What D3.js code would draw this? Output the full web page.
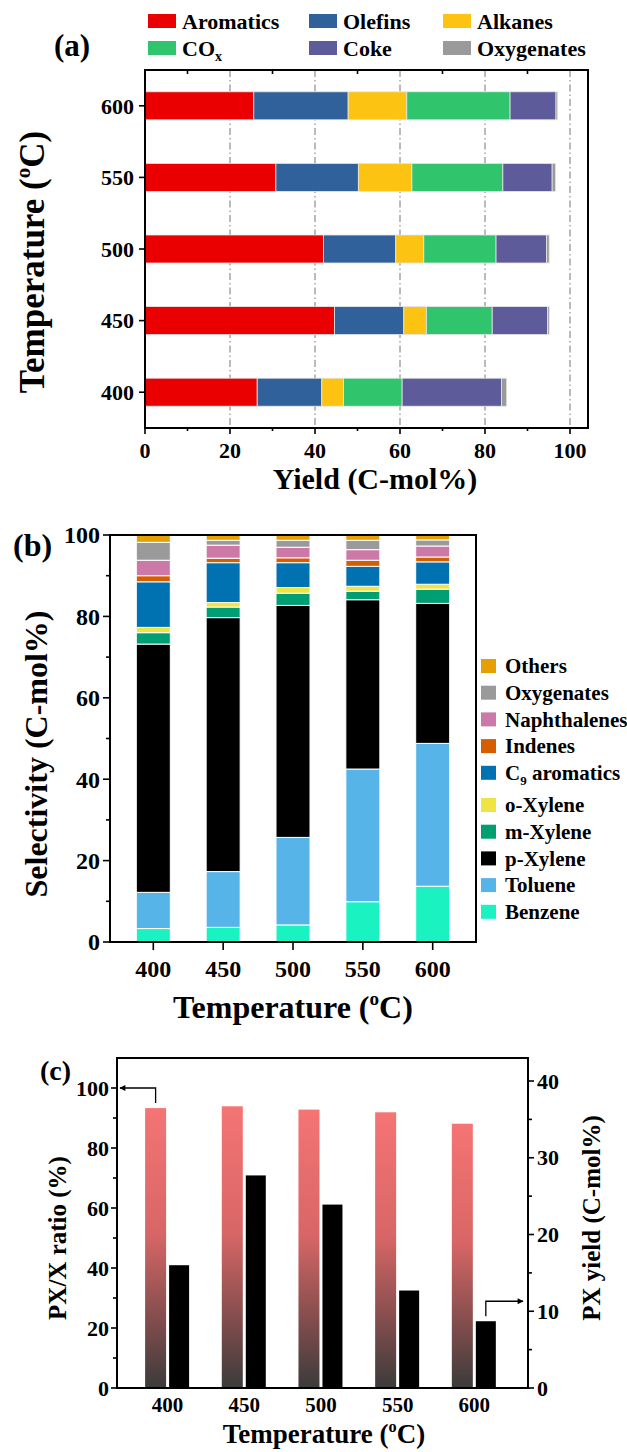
<!DOCTYPE html>
<html>
<head>
<meta charset="utf-8">
<script src="https://cdn.jsdelivr.net/npm/d3@7"></script>
<style>
body { margin: 0; background: #fff; }
text { font-family: "Liberation Serif", "Times New Roman", serif; font-weight: bold; fill: #000; }
</style>
</head>
<body>
<script>
var width = 627,
    height = 1452;

// ---- data ----
var temps = [400, 450, 500, 550, 600];

// (a) yields, C-mol%
var aromatics  = [26.4, 44.6, 42.0, 30.8, 25.6];
var olefins    = [15.2, 16.3, 17.0, 19.4, 22.2];
var alkanes    = [5.1, 5.3, 6.6, 12.6, 13.8];
var cox        = [13.8, 15.5, 17.0, 21.4, 24.3];
var coke       = [23.4, 13.0, 11.9, 11.6, 10.8];
var oxyYield   = [1.2, 0.4, 0.6, 0.8, 0.4];
var yieldNames = ["Aromatics", "Olefins", "Alkanes", "COx", "Coke", "Oxygenates"];
var yieldColors = ["#ea0000", "#30619b", "#fdc313", "#30c56c", "#5d5b9a", "#9a9a9a"];
var yieldTicks = [0, 20, 40, 60, 80, 100];

// (b) selectivity, C-mol%
var benzene  = [3.3, 3.6, 4.2, 9.9, 13.7];
var toluene  = [8.9, 13.7, 21.5, 32.6, 35.1];
var pXylene  = [61.0, 62.4, 57.0, 41.6, 34.4];
var mXylene  = [2.8, 2.6, 3.0, 2.1, 3.5];
var oXylene  = [1.3, 1.1, 1.4, 1.2, 1.2];
var c9arom   = [11.2, 9.8, 6.1, 4.9, 5.5];
var indenes  = [1.5, 1.1, 1.2, 1.5, 1.2];
var naphth   = [3.8, 3.2, 2.6, 2.6, 2.7];
var oxySel   = [4.4, 1.2, 1.7, 2.3, 1.5];
var others   = [1.8, 1.3, 1.3, 1.3, 1.2];
var selNames = ["Benzene", "Toluene", "p-Xylene", "m-Xylene", "o-Xylene",
                "C9 aromatics", "Indenes", "Naphthalenes", "Oxygenates", "Others"];
var selColors = ["#1af2c2", "#56b4e9", "#000000", "#009e73", "#f0e442",
                 "#0072b2", "#d55e00", "#cc79a7", "#9a9a9a", "#e69f00"];
var selTicks = [0, 20, 40, 60, 80, 100];

// (c)
var pxRatio = [93.3, 93.9, 92.8, 91.9, 88.1];
var pxYield = [16.0, 27.7, 23.9, 12.7, 8.7];
var ratioTicks = [0, 20, 40, 60, 80, 100];
var pxTicks = [0, 10, 20, 30, 40];

var svg = d3.select("body").append("svg")
    .attr("width", width)
    .attr("height", height)
    .style("background", "#fff");

var defs = svg.append("defs");
var grad = defs.append("linearGradient")
    .attr("id", "pink")
    .attr("x1", 0).attr("y1", 0).attr("x2", 0).attr("y2", 1);
[["0%", "#f57474"], ["45%", "#d86666"], ["78%", "#7c4b4b"], ["100%", "#3b3b3b"]].forEach(function(s) {
    grad.append("stop").attr("offset", s[0]).attr("stop-color", s[1]);
});
defs.append("marker")
    .attr("id", "arrow")
    .attr("viewBox", "0 0 10 10")
    .attr("refX", 9).attr("refY", 5)
    .attr("markerWidth", 9).attr("markerHeight", 6)
    .attr("markerUnits", "userSpaceOnUse")
    .attr("orient", "auto")
    .append("path")
    .attr("d", "M0,0L10,5L0,10z")
    .attr("fill", "#000");

function frame(x0, y0, x1, y1) {
    svg.append("rect")
        .attr("x", x0).attr("y", y0)
        .attr("width", x1 - x0).attr("height", y1 - y0)
        .attr("fill", "none").attr("stroke", "#000").attr("stroke-width", 2);
}

// "Temperature (oC)" with a raised small o
function tempLabel(sel, fs) {
    var rise = Math.round(fs * 0.4);
    sel.attr("font-size", fs);
    sel.append("tspan").text("Temperature (");
    sel.append("tspan").attr("dy", -rise).attr("font-size", fs * 0.6).text("o");
    sel.append("tspan").attr("dy", rise).text("C)");
}

function tick(x1, y1, x2, y2) {
    svg.append("line")
        .attr("x1", x1).attr("y1", y1).attr("x2", x2).attr("y2", y2)
        .attr("stroke", "#000").attr("stroke-width", 1.6);
}

// ================= (a) =================
var xA = d3.scaleLinear().domain([0, 104]).range([145, 587]);
var yA = d3.scalePoint().domain(temps.slice().reverse()).range([70, 428]).padding(0.5);
var seriesA = [aromatics, olefins, alkanes, cox, coke, oxyYield];

// grid
svg.append("g").selectAll("line")
    .data(yieldTicks.slice(1))
    .enter().append("line")
    .attr("x1", function(d) { return xA(d); })
    .attr("x2", function(d) { return xA(d); })
    .attr("y1", 70).attr("y2", 428)
    .attr("stroke", "#777").attr("stroke-width", 1)
    .attr("stroke-dasharray", "7,3,1.5,3");

var stackA = d3.stack().keys(d3.range(6))
    .value(function(d, k) { return seriesA[k][d]; })(d3.range(temps.length));

svg.append("g").selectAll("g")
    .data(stackA)
    .enter().append("g")
    .attr("fill", function(d, i) { return yieldColors[i]; })
    .selectAll("rect")
    .data(function(d) { return d; })
    .enter().append("rect")
    .attr("x", function(d) { return xA(d[0]); })
    .attr("width", function(d) { return xA(d[1]) - xA(d[0]); })
    .attr("y", function(d) { return yA(temps[d.data]) - 14; })
    .attr("height", 28)
    .attr("stroke", "#e6e6e6").attr("stroke-width", 0.8);

frame(145, 70, 588, 428);

// ticks
yieldTicks.forEach(function(v) { tick(xA(v), 428, xA(v), 434); });
d3.range(10, 101, 20).forEach(function(v) {
    tick(xA(v), 428, xA(v), 431);
    tick(xA(v), 70, xA(v), 74);
});
temps.forEach(function(t) { tick(139, yA(t), 145, yA(t)); });

svg.append("g").selectAll("text")
    .data(yieldTicks)
    .enter().append("text")
    .attr("x", function(d) { return xA(d); })
    .attr("y", 458)
    .attr("text-anchor", "middle")
    .attr("font-size", 22)
    .text(function(d) { return d; });

svg.append("g").selectAll("text")
    .data(temps)
    .enter().append("text")
    .attr("x", 134)
    .attr("y", function(d) { return yA(d); })
    .attr("dy", "0.35em")
    .attr("text-anchor", "end")
    .attr("font-size", 22)
    .text(function(d) { return d; });

svg.append("text")
    .attr("x", 375).attr("y", 489)
    .attr("text-anchor", "middle")
    .attr("font-size", 30)
    .text("Yield (C-mol%)");

svg.append("text")
    .attr("transform", "translate(44,262) rotate(-90)")
    .attr("text-anchor", "middle")
    .call(tempLabel, 35);

svg.append("text").attr("x", 54).attr("y", 56).attr("font-size", 31).text("(a)");

// legend (a)
var legA = svg.append("g").selectAll("g")
    .data(yieldNames)
    .enter().append("g")
    .attr("transform", function(d, i) {
        return "translate(" + [[148, 309, 443][i % 3], [21, 48][Math.floor(i / 3)]] + ")";
    });
legA.append("rect")
    .attr("x", 0).attr("y", -7).attr("width", 28).attr("height", 14)
    .attr("fill", function(d, i) { return yieldColors[i]; });
legA.append("text")
    .attr("x", 34).attr("dy", "0.35em")
    .attr("font-size", 22)
    .each(function(d) {
        var t = d3.select(this);
        if (d === "COx") {
            t.append("tspan").text("CO");
            t.append("tspan").attr("dy", 5).attr("font-size", 14).text("x");
        } else {
            t.text(d);
        }
    });

// ================= (b) =================
var xB = d3.scaleLinear().domain([369, 631]).range([110, 476]);
var yB = d3.scaleLinear().domain([0, 100]).range([942, 535]);
var seriesB = [benzene, toluene, pXylene, mXylene, oXylene, c9arom, indenes, naphth, oxySel, others];

var stackB = d3.stack().keys(d3.range(10))
    .value(function(d, k) { return seriesB[k][d]; })(d3.range(temps.length));

svg.append("g").selectAll("g")
    .data(stackB)
    .enter().append("g")
    .attr("fill", function(d, i) { return selColors[i]; })
    .selectAll("rect")
    .data(function(d) { return d; })
    .enter().append("rect")
    .attr("x", function(d) { return xB(temps[d.data]) - 17; })
    .attr("width", 34)
    .attr("y", function(d) { return yB(d[1]); })
    .attr("height", function(d) { return yB(d[0]) - yB(d[1]); })
    .attr("stroke", "#fff").attr("stroke-width", 1);

frame(110, 535, 476, 942);

selTicks.forEach(function(v) { tick(103, yB(v), 110, yB(v)); });
d3.range(10, 100, 20).forEach(function(v) { tick(106, yB(v), 110, yB(v)); });
temps.forEach(function(t) { tick(xB(t), 942, xB(t), 950); });

svg.append("g").selectAll("text")
    .data(selTicks)
    .enter().append("text")
    .attr("x", 100)
    .attr("y", function(d) { return yB(d); })
    .attr("dy", "0.35em")
    .attr("text-anchor", "end")
    .attr("font-size", 24)
    .text(function(d) { return d; });

svg.append("g").selectAll("text")
    .data(temps)
    .enter().append("text")
    .attr("x", function(d) { return xB(d); })
    .attr("y", 977)
    .attr("text-anchor", "middle")
    .attr("font-size", 24)
    .text(function(d) { return d; });

svg.append("text")
    .attr("x", 293).attr("y", 1018)
    .attr("text-anchor", "middle")
    .call(tempLabel, 32);

svg.append("text")
    .attr("transform", "translate(47,754) rotate(-90)")
    .attr("text-anchor", "middle")
    .attr("font-size", 32)
    .text("Selectivity (C-mol%)");

svg.append("text").attr("x", 13).attr("y", 556).attr("font-size", 32).text("(b)");

// legend (b), top entry is last series
var legB = svg.append("g").selectAll("g")
    .data(selNames.slice().reverse())
    .enter().append("g")
    .attr("transform", function(d, i) {
        return "translate(481," + (666 + i * 26.7 + (i >= 5 ? 5.5 : 0)) + ")";
    });
legB.append("rect")
    .attr("x", 0).attr("y", -7).attr("width", 15).attr("height", 14)
    .attr("fill", function(d, i) { return selColors[9 - i]; });
legB.append("text")
    .attr("x", 24).attr("dy", "0.35em")
    .attr("font-size", 21)
    .each(function(d) {
        var t = d3.select(this);
        if (d === "C9 aromatics") {
            t.append("tspan").text("C");
            t.append("tspan").attr("dy", 5).attr("font-size", 13).text("9");
            t.append("tspan").attr("dy", -5).text(" aromatics");
        } else {
            t.text(d);
        }
    });

// ================= (c) =================
var xC = d3.scaleLinear().domain([367, 635]).range([117, 528]);
var yL = d3.scaleLinear().domain([0, 110]).range([1388, 1058]);
var yR = d3.scaleLinear().domain([0, 43]).range([1388, 1058]);

svg.append("g").selectAll("rect")
    .data(temps)
    .enter().append("rect")
    .attr("x", function(d) { return xC(d) - 22.5; })
    .attr("width", 21)
    .attr("y", function(d, i) { return yL(pxRatio[i]); })
    .attr("height", function(d, i) { return yL(0) - yL(pxRatio[i]); })
    .attr("fill", "url(#pink)");

svg.append("g").selectAll("rect")
    .data(temps)
    .enter().append("rect")
    .attr("x", function(d) { return xC(d) + 1.5; })
    .attr("width", 20)
    .attr("y", function(d, i) { return yR(pxYield[i]); })
    .attr("height", function(d, i) { return yR(0) - yR(pxYield[i]); })
    .attr("fill", "#000");

frame(117, 1058, 528, 1388);

ratioTicks.forEach(function(v) { tick(111, yL(v), 117, yL(v)); });
d3.range(10, 110, 20).forEach(function(v) { tick(113, yL(v), 117, yL(v)); });
pxTicks.forEach(function(v) { tick(528, yR(v), 534, yR(v)); });
d3.range(5, 43, 10).forEach(function(v) { tick(528, yR(v), 532, yR(v)); });

svg.append("g").selectAll("text")
    .data(ratioTicks)
    .enter().append("text")
    .attr("x", 109)
    .attr("y", function(d) { return yL(d); })
    .attr("dy", "0.35em")
    .attr("text-anchor", "end")
    .attr("font-size", 22)
    .text(function(d) { return d; });

svg.append("g").selectAll("text")
    .data(pxTicks)
    .enter().append("text")
    .attr("x", 537)
    .attr("y", function(d) { return yR(d); })
    .attr("dy", "0.35em")
    .attr("font-size", 22)
    .text(function(d) { return d; });

svg.append("g").selectAll("text")
    .data(temps)
    .enter().append("text")
    .attr("x", function(d) { return xC(d); })
    .attr("y", 1412)
    .attr("text-anchor", "middle")
    .attr("font-size", 21)
    .text(function(d) { return d; });

svg.append("text")
    .attr("x", 324).attr("y", 1443)
    .attr("text-anchor", "middle")
    .call(tempLabel, 27);

svg.append("text")
    .attr("transform", "translate(66,1238) rotate(-90)")
    .attr("text-anchor", "middle")
    .attr("font-size", 25)
    .text("PX/X ratio (%)");

svg.append("text")
    .attr("transform", "translate(600,1218) rotate(-90)")
    .attr("text-anchor", "middle")
    .attr("font-size", 25)
    .text("PX yield (C-mol%)");

svg.append("text").attr("x", 40).attr("y", 1080).attr("font-size", 28).text("(c)");

// arrows pointing to the axes
var ax0 = xC(temps[0]) - 12;
svg.append("path")
    .attr("d", "M" + ax0 + "," + (yL(pxRatio[0]) - 5) + "V" + yL(100) + "H" + 120)
    .attr("fill", "none").attr("stroke", "#000").attr("stroke-width", 1.3)
    .attr("marker-end", "url(#arrow)");
var ax1 = xC(temps[4]) + 11.5;
svg.append("path")
    .attr("d", "M" + ax1 + "," + (yR(pxYield[4]) - 5) + "V" + (yR(pxYield[4]) - 20) + "H" + 523)
    .attr("fill", "none").attr("stroke", "#000").attr("stroke-width", 1.3)
    .attr("marker-end", "url(#arrow)");
</script>
</body>
</html>
